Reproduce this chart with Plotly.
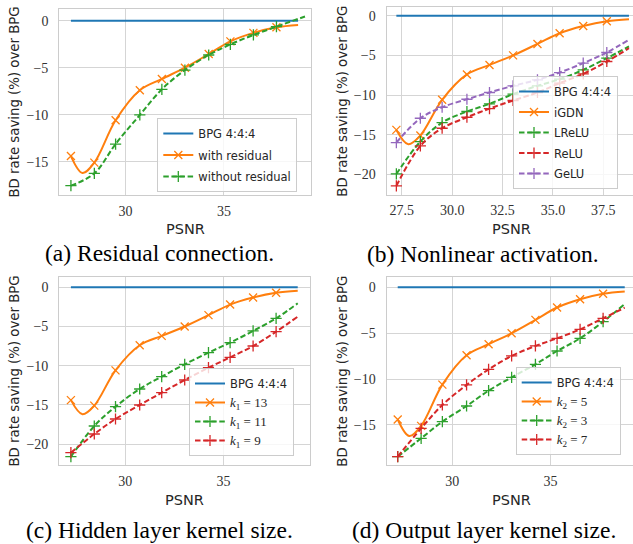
import plotly.graph_objects as go

# ---------------- data ----------------
# PSNR of the marked rate points, shared by all models
psnr = [27.23, 28.42, 29.5, 30.73, 31.85, 33.02, 34.23, 35.33, 36.5, 37.67]
psnr_end = 38.77           # last (unmarked) point of the curves
psnr_end_nores = 39.12     # last point of "without residual"

# BPG 4:4:4 anchor (0 % saving)
bpg_x = psnr + [psnr_end]
bpg = [0.0, 0.0, 0.0, 0.0, 0.0, 0.0, 0.0, 0.0, 0.0, 0.0, 0.0]

# proposed model (iGDN, residual, k1=13, k2=5)
igdn = [-14.4, -15.1, -10.6, -7.4, -6.2, -5.0, -3.55, -2.2, -1.3, -0.7]
igdn_end = -0.45
igdn_dip_x = 27.82
igdn_dip = -16.2

# (a) residual connection
no_residual = [-17.55, -16.24, -13.12, -10.03, -7.30, -5.25, -3.65, -2.52, -1.52, -0.64]
no_residual_end = 0.45

# (b) nonlinear activation
lrelu = [-19.96, -15.87, -13.47, -12.08, -11.12, -9.89, -8.84, -8.0, -6.82, -5.35]
lrelu_end = -3.87
relu = [-21.47, -16.42, -14.19, -12.8, -11.71, -10.69, -9.68, -8.5, -7.33, -5.77]
relu_end = -4.08
gelu = [-16.0, -12.93, -11.54, -10.53, -9.68, -8.84, -8.08, -7.16, -5.98, -4.63]
gelu_end = -3.03

# (c) hidden layer kernel size
k1_11 = [-21.62, -17.70, -15.23, -12.98, -11.40, -9.83, -8.34, -7.06, -5.57, -3.96]
k1_11_end = -2.04
k1_9 = [-21.11, -18.72, -16.81, -15.02, -13.45, -11.83, -10.26, -8.94, -7.49, -5.66]
k1_9_end = -3.74

# (d) output layer kernel size
k2_3 = [-18.45, -16.45, -14.64, -12.93, -11.26, -9.81, -8.39, -6.94, -5.56, -3.74]
k2_3_end = -1.82
k2_7 = [-18.45, -15.37, -12.82, -10.64, -8.94, -7.48, -6.39, -5.56, -4.58, -3.38]
k2_7_end = -2.22

# tick labels
xt_int = [30, 35]
xt_b = [27.5, 30.0, 32.5, 35.0, 37.5]
yt_a = [0, -5, -10, -15]
yt_b = [0, -5, -10, -15, -20]

captions = ["(a) Residual connection.", "(b) Nonlinear activation.",
            "(c) Hidden layer kernel size.", "(d) Output layer kernel size."]

# ---------------- style ----------------
W, H = 633, 544
BLUE, ORANGE, GREEN, RED, PURPLE = "#1f77b4", "#ff7f0e", "#2ca02c", "#d62728", "#9467bd"
GRID = "#d5d5d5"
FRAME = "#cccccc"
TXT = "#262626"
SANS = "DejaVu Sans"
SERIF = "Liberation Serif"
DASH = "5.5px,2.6px"

panels = {
    "a": ("x", "y", "legend"),
    "b": ("x2", "y2", "legend2"),
    "c": ("x3", "y3", "legend3"),
    "d": ("x4", "y4", "legend4"),
}

fig = go.Figure()


def add_series(p, name, xs, ys, x_end, y_end, color, symbol=None, dash="solid", dip=None):
    xa, ya, lg = panels[p]
    cx = list(xs) + [x_end]
    cy = list(ys) + [y_end]
    if dip is not None:
        cx.insert(1, dip[0])
        cy.insert(1, dip[1])
    fig.add_trace(go.Scatter(
        x=cx, y=cy, mode="lines", xaxis=xa, yaxis=ya, showlegend=False,
        line=dict(color=color, width=2, dash=dash, shape="spline", smoothing=1.0),
        hoverinfo="skip"))
    mk = None
    if symbol:
        mk = dict(symbol=symbol, size=8, color=color, line=dict(color=color, width=1.3))
        fig.add_trace(go.Scatter(
            x=xs, y=ys, mode="markers", xaxis=xa, yaxis=ya, showlegend=False,
            marker=mk, hoverinfo="skip"))
    fig.add_trace(go.Scatter(
        x=[None], y=[None], mode="lines+markers" if symbol else "lines",
        name=name, xaxis=xa, yaxis=ya, legend=lg, legendgroup=p + name,
        line=dict(color=color, width=2, dash=dash), marker=mk))


def k_label(i, v):
    return ("<span style=\"font-family:'Liberation Serif';font-size:13px\">"
            "<i>k</i><sub>%d</sub> = %d</span>" % (i, v))


dipxy = (igdn_dip_x, igdn_dip)

# (a)
add_series("a", "BPG 4:4:4", bpg_x[:-1], bpg[:-1], bpg_x[-1], bpg[-1], BLUE)
add_series("a", "with residual", psnr, igdn, psnr_end, igdn_end, ORANGE, "x-thin", dip=dipxy)
add_series("a", "without residual", psnr, no_residual, psnr_end_nores, no_residual_end,
           GREEN, "cross-thin", DASH)
# (b)
add_series("b", "BPG 4:4:4", bpg_x[:-1], bpg[:-1], bpg_x[-1], bpg[-1], BLUE)
add_series("b", "iGDN", psnr, igdn, psnr_end, igdn_end, ORANGE, "x-thin", dip=dipxy)
add_series("b", "LReLU", psnr, lrelu, psnr_end, lrelu_end, GREEN, "cross-thin", DASH)
add_series("b", "ReLU", psnr, relu, psnr_end, relu_end, RED, "cross-thin", DASH)
add_series("b", "GeLU", psnr, gelu, psnr_end, gelu_end, PURPLE, "cross-thin", DASH)
# (c)
add_series("c", "BPG 4:4:4", bpg_x[:-1], bpg[:-1], bpg_x[-1], bpg[-1], BLUE)
add_series("c", k_label(1, 13), psnr, igdn, psnr_end, igdn_end, ORANGE, "x-thin", dip=dipxy)
add_series("c", k_label(1, 11), psnr, k1_11, psnr_end, k1_11_end, GREEN, "cross-thin", DASH)
add_series("c", k_label(1, 9), psnr, k1_9, psnr_end, k1_9_end, RED, "cross-thin", DASH)
# (d)
add_series("d", "BPG 4:4:4", bpg_x[:-1], bpg[:-1], bpg_x[-1], bpg[-1], BLUE)
add_series("d", k_label(2, 5), psnr, igdn, psnr_end, igdn_end, ORANGE, "x-thin", dip=dipxy)
add_series("d", k_label(2, 3), psnr, k2_3, psnr_end, k2_3_end, GREEN, "cross-thin", DASH)
add_series("d", k_label(2, 7), psnr, k2_7, psnr_end, k2_7_end, RED, "cross-thin", DASH)


def px_x(v):
    return v / W


def px_y(v):
    return 1 - v / H


def xaxis(dom, rng, tv, fmt=None):
    d = dict(domain=[px_x(dom[0]), min(1.0, px_x(dom[1]))], range=rng, tickvals=tv,
             showgrid=True, gridcolor=GRID, gridwidth=1, zeroline=False,
             showline=True, linecolor=FRAME, linewidth=1.25, mirror=True,
             ticks="", ticklabelstandoff=3,
             tickfont=dict(family=SERIF, size=14, color="#333333"))
    if fmt:
        d["tickformat"] = fmt
    return d


def yaxis(dom, rng, tv, anchor, mirror=True):
    return dict(domain=[px_y(dom[1]), px_y(dom[0])], range=rng, tickvals=tv, anchor=anchor,
                showgrid=True, gridcolor=GRID, gridwidth=1, zeroline=False,
                showline=True, linecolor=FRAME, linewidth=1.25, mirror=mirror,
                ticks="", ticklabelstandoff=7,
                tickfont=dict(family=SERIF, size=14, color="#333333"))


def legend(left, top, gap):
    return dict(x=px_x(left), y=px_y(top), xanchor="left", yanchor="top",
                bgcolor="rgba(255,255,255,0.8)", bordercolor=FRAME, borderwidth=1,
                font=dict(family=SANS, size=11.5, color=TXT), tracegroupgap=gap,
                itemwidth=30)


layout = dict(
    width=W, height=H, margin=dict(l=0, r=0, t=0, b=0),
    paper_bgcolor="white", plot_bgcolor="white",
    xaxis=xaxis((59.3, 310.7), [26.64, 39.41], xt_int),
    yaxis=yaxis((9.3, 194.7), [-18.51, 1.21], yt_a, "x"),
    xaxis2=dict(xaxis((386.7, 633), [26.75, 38.97], xt_b, ".1f"), anchor="y2"),
    yaxis2=yaxis((7.3, 194.5), [-22.55, 1.07], yt_b, "x2", mirror=False),
    xaxis3=dict(xaxis((59.3, 310.3), [26.64, 39.41], xt_int), anchor="y3"),
    yaxis3=yaxis((277.3, 465), [-22.68, 1.28], yt_b, "x3"),
    xaxis4=dict(xaxis((386.7, 633), [26.67, 39.19], xt_int), anchor="y4"),
    yaxis4=yaxis((277.3, 465), [-19.36, 1.09], yt_a, "x4", mirror=False),
    legend=legend(157.3, 118, 2.5),
    legend2=legend(513, 76, 1.5),
    legend3=legend(189, 368, 0),
    legend4=legend(515.7, 367, 0),
)
layout["xaxis"]["anchor"] = "y"
fig.update_layout(**layout)

ann = []
# x titles
for cx, cy in [(185, 229), (511, 229), (184.5, 500), (511, 500)]:
    ann.append(dict(x=px_x(cx), y=px_y(cy), xref="paper", yref="paper", text="PSNR",
                    showarrow=False, xanchor="center", yanchor="middle",
                    font=dict(family=SANS, size=14.5, color=TXT)))
# y titles
for cx, cy in [(13.5, 102), (341.7, 101), (13.5, 371), (341.7, 371)]:
    ann.append(dict(x=px_x(cx), y=px_y(cy), xref="paper", yref="paper",
                    text="BD rate saving (%) over BPG", textangle=-90,
                    showarrow=False, xanchor="center", yanchor="middle",
                    font=dict(family=SANS, size=13.3, color=TXT)))
# captions
for txt, (cx, cy) in zip(captions, [(159.5, 253), (482.5, 254), (159, 530), (483.5, 530)]):
    ann.append(dict(x=px_x(cx), y=px_y(cy), xref="paper", yref="paper", text=txt,
                    showarrow=False, xanchor="center", yanchor="middle",
                    font=dict(family=SERIF, size=23.5, color="black")))
fig.update_layout(annotations=ann)

fig.write_html("out.html", config={"displayModeBar": False},
               post_script="document.body.style.margin='0';document.body.style.overflow='hidden';")
